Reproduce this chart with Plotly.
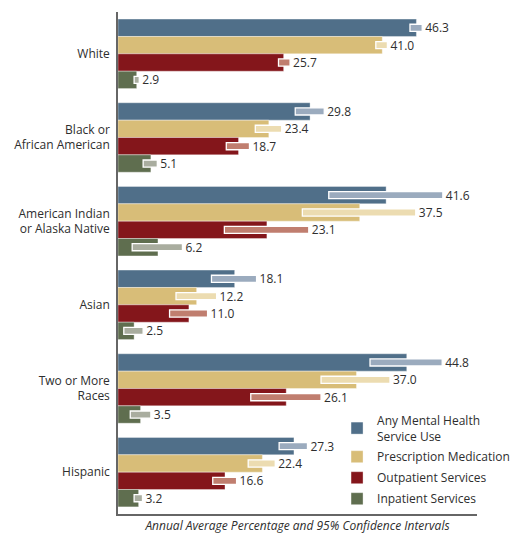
import plotly.graph_objects as go

categories = ["White", "Black or<br>African American", "American Indian<br>or Alaska Native",
              "Asian", "Two or More<br>Races", "Hispanic"]
series_names = ["Any Mental Health<br>Service Use", "Prescription Medication",
                "Outpatient Services", "Inpatient Services"]

any_mh = [46.3, 29.8, 41.6, 18.1, 44.8, 27.3]
any_lo = [45.3, 27.5, 32.7, 14.5, 39.1, 25.0]
any_hi = [47.2, 32.0, 50.4, 21.5, 50.3, 29.4]

rx_med = [41.0, 23.4, 37.5, 12.2, 37.0, 22.4]
rx_lo = [40.0, 21.3, 28.6, 9.0, 31.5, 20.2]
rx_hi = [41.8, 25.4, 46.2, 15.3, 42.2, 24.4]

outpat = [25.7, 18.7, 23.1, 11.0, 26.1, 16.6]
outpat_lo = [24.9, 16.8, 16.5, 8.0, 20.6, 14.7]
outpat_hi = [26.7, 20.4, 29.6, 13.9, 31.5, 18.4]

inpat = [2.9, 5.1, 6.2, 2.5, 3.5, 3.2]
inpat_lo = [2.5, 3.9, 2.2, 0.9, 1.9, 2.5]
inpat_hi = [3.3, 6.1, 10.0, 3.9, 5.1, 3.8]

values = [any_mh, rx_med, outpat, inpat]
lows = [any_lo, rx_lo, outpat_lo, inpat_lo]
highs = [any_hi, rx_hi, outpat_hi, inpat_hi]
colors = ["#506f89", "#d8bd78", "#84161b", "#5f6e4f"]
ci_colors = ["#9babbe", "#ecdcb1", "#c07e6f", "#a9ad9f"]

FONT = "Open Sans"
group_w = 0.83
bw = group_w / 4
ciw = 0.085

fig = go.Figure()
for i in range(4):
    off = -group_w / 2 + i * bw
    fig.add_trace(go.Bar(
        y=categories, x=values[i], orientation="h", name=series_names[i],
        legendgroup=f"g{i}",
        offset=off, width=bw,
        marker=dict(color=colors[i], line=dict(color="rgba(255,255,255,0.45)", width=0.8)),
        hoverinfo="skip",
    ))
for i in range(4):
    off = -group_w / 2 + i * bw + (bw - ciw) / 2
    fig.add_trace(go.Bar(
        y=categories, x=[h - l for h, l in zip(highs[i], lows[i])], base=lows[i],
        orientation="h", offset=off, width=ciw, showlegend=False,
        marker=dict(color=ci_colors[i], line=dict(color="white", width=1.3)),
        text=[f"{v:.1f}" for v in values[i]], textposition="outside",
        constraintext="none", cliponaxis=False,
        textfont=dict(family=FONT, size=12, color="#2e2e2e"),
        hoverinfo="skip",
    ))

fig.update_layout(
    width=513, height=534,
    margin=dict(l=118, r=36, t=12, b=20, autoexpand=False),
    barmode="overlay",
    plot_bgcolor="white", paper_bgcolor="white",
    font=dict(family=FONT, size=12, color="#2e2e2e"),
    showlegend=True,
    legend=dict(xref="container", yref="container", x=0.657, y=0.2397,
                xanchor="left", yanchor="top",
                bgcolor="rgba(0,0,0,0)", font=dict(family=FONT, size=12, color="#2e2e2e"),
                tracegroupgap=2),
    xaxis=dict(range=[0, 55.7], autorange=False, showgrid=False, zeroline=False,
               showticklabels=False,
               ticks="", showline=True, linecolor="#666666", linewidth=1.5,
               title=dict(text="<i>Annual Average Percentage and 95% Confidence Intervals</i>",
                          font=dict(family=FONT, size=12, color="#2e2e2e"), standoff=9),
               automargin=False),
    yaxis=dict(autorange="reversed", showgrid=False, zeroline=False, ticks="",
               showline=True, linecolor="#666666", linewidth=1.5,
               tickfont=dict(family=FONT, size=12, color="#2e2e2e"),
               ticklabelstandoff=4, automargin=False),
)

fig.write_html("out.html")
